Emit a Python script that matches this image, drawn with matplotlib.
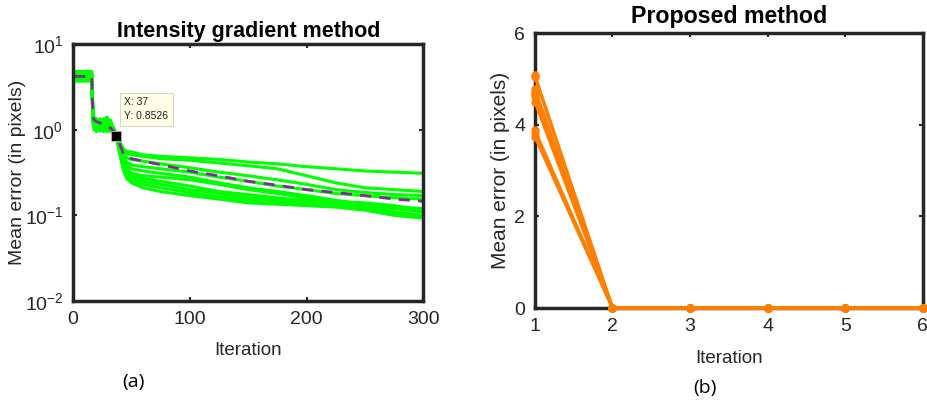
import numpy as np
import matplotlib
matplotlib.use("Agg")
import matplotlib.pyplot as plt

plt.rcParams['font.family'] = ['Liberation Sans', 'DejaVu Sans']

# iterations where the curves of panel (a) were read
iters = [1, 16, 17, 18, 20, 23, 26, 29, 32, 35, 37, 40, 43, 46, 50, 60,
         75, 100, 125, 150, 175, 200, 225, 250, 275, 300]

# mean error of each run, intensity gradient method
runs_a = [
    [4.6, 4.6, 1.6, 1.25, 1.1, 1.3, 1.15, 1.4, 1.2, 1.0, 0.9, 0.70, 0.60, 0.56, 0.55, 0.51,
     0.49, 0.47, 0.45, 0.42, 0.40, 0.37, 0.35, 0.33, 0.32, 0.31],
    [4.3, 4.3, 1.5, 1.35, 1.2, 1.1, 1.35, 1.2, 1.1, 1.05, 0.88, 0.72, 0.58, 0.53, 0.51, 0.49,
     0.46, 0.44, 0.41, 0.38, 0.35, 0.29, 0.24, 0.21, 0.20, 0.19],
    [4.0, 4.0, 1.75, 1.25, 1.0, 1.2, 1.1, 1.4, 1.1, 0.95, 0.85, 0.68, 0.52, 0.47, 0.45, 0.43,
     0.40, 0.36, 0.32, 0.29, 0.26, 0.23, 0.20, 0.185, 0.175, 0.17],
    [3.8, 3.8, 1.3, 1.0, 1.05, 1.25, 0.98, 1.1, 1.3, 0.98, 0.86, 0.64, 0.48, 0.42, 0.39, 0.37,
     0.35, 0.32, 0.28, 0.25, 0.22, 0.20, 0.18, 0.17, 0.16, 0.155],
    [4.8, 4.8, 1.7, 1.4, 1.1, 1.0, 1.25, 1.05, 1.2, 1.0, 0.84, 0.62, 0.45, 0.38, 0.35, 0.33,
     0.31, 0.28, 0.24, 0.21, 0.19, 0.17, 0.15, 0.135, 0.125, 0.12],
    [4.4, 4.4, 1.2, 1.1, 0.95, 1.15, 1.05, 1.25, 1.0, 0.95, 0.87, 0.60, 0.42, 0.35, 0.31, 0.29,
     0.28, 0.26, 0.23, 0.20, 0.18, 0.16, 0.145, 0.14, 0.13, 0.115],
    [3.7, 3.7, 1.55, 1.15, 1.35, 1.05, 0.95, 1.1, 1.05, 0.92, 0.85, 0.58, 0.40, 0.33, 0.29, 0.27,
     0.25, 0.22, 0.19, 0.175, 0.16, 0.15, 0.14, 0.13, 0.12, 0.11],
    [4.1, 4.1, 1.35, 1.2, 0.97, 1.1, 1.3, 0.95, 1.1, 0.97, 0.86, 0.56, 0.38, 0.31, 0.27, 0.25,
     0.23, 0.20, 0.18, 0.16, 0.15, 0.14, 0.135, 0.125, 0.11, 0.10],
    [4.5, 4.5, 1.45, 1.05, 1.15, 1.35, 1.1, 1.0, 1.25, 0.93, 0.84, 0.54, 0.36, 0.29, 0.25, 0.23,
     0.21, 0.185, 0.165, 0.15, 0.14, 0.14, 0.135, 0.12, 0.105, 0.097],
    [3.9, 3.9, 1.25, 1.1, 1.2, 0.96, 1.15, 1.3, 0.95, 0.9, 0.83, 0.52, 0.34, 0.27, 0.24, 0.21,
     0.19, 0.17, 0.155, 0.14, 0.135, 0.13, 0.125, 0.115, 0.10, 0.093],
]
mean_a = [4.2, 4.2, 1.45, 1.3, 1.25, 1.2, 1.15, 1.1, 1.05, 0.95, 0.8526, 0.68, 0.53, 0.48,
          0.46, 0.43, 0.39, 0.33, 0.29, 0.25, 0.225, 0.20, 0.185, 0.17, 0.155, 0.146]
tip_x, tip_y = 37, 0.8526

# proposed method: error at iteration 1 for each run, then zero
iters_b = [1, 2, 3, 4, 5, 6]
start_b = [5.08, 5.05, 4.78, 4.72, 4.68, 4.62, 4.50, 3.88, 3.82, 3.74]

dark = '#262626'

fig = plt.figure(figsize=(9.27, 4.11), dpi=100)
ax1 = fig.add_axes([0.0788, 0.2676, 0.378, 0.625])
ax2 = fig.add_axes([0.577, 0.2506, 0.4186, 0.669])

for r in runs_a:
    ax1.plot(iters, r, color='#00FF00', lw=2.2)
ax1.plot(iters, mean_a, color='#7E2F8E', lw=2, ls=(0, (4, 3)))
ax1.plot([tip_x], [tip_y], 's', color='black', ms=7, mec='#bbbbbb', mew=0.6)
ax1.text(44, 2.4, 'X: %d\nY: %.4f' % (tip_x, tip_y), fontsize=7.5, va='top', ha='left',
         color='#222222', linespacing=1.5,
         bbox=dict(boxstyle='square,pad=0.45', fc='#FFFFE6', ec='#d8d8c8', lw=0.8))
ax1.set_yscale('log')
ax1.set_xlim(0, 300)
ax1.set_ylim(0.01, 10)
ax1.set_xticks([0, 100, 200, 300])
ax1.set_yticks([0.01, 0.1, 1, 10])
ax1.yaxis.set_minor_locator(matplotlib.ticker.NullLocator())
ax1.set_title('Intensity gradient method', fontsize=15.5, fontweight='bold', pad=5)
ax1.set_xlabel('Iteration', fontsize=13.5, color=dark, labelpad=10)
ax1.set_ylabel('Mean error (in pixels)', fontsize=14, color=dark, labelpad=-1)

for s in start_b:
    ax2.plot(iters_b, [s, 0, 0, 0, 0, 0], color='#FF8000', lw=2.2, marker='o', ms=5,
             clip_on=False, zorder=3)
ax2.set_xlim(1, 6)
ax2.set_ylim(0, 6)
ax2.set_xticks(iters_b)
ax2.set_yticks([0, 2, 4, 6])
ax2.set_title('Proposed method', fontsize=16.7, fontweight='bold', pad=7)
ax2.set_xlabel('Iteration', fontsize=13.5, color=dark, labelpad=11)
ax2.set_ylabel('Mean error (in pixels)', fontsize=15, color=dark, labelpad=3)

for ax in (ax1, ax2):
    for sp in ax.spines.values():
        sp.set_linewidth(2.5)
        sp.set_color(dark)
    ax.tick_params(direction='in', top=True, right=True, length=3, width=1.5,
                   labelsize=14, labelcolor=dark, color=dark, pad=7)

fig.text(0.1435, 0.058, '(a)', fontsize=14, ha='center', family=['Open Sans', 'DejaVu Sans'])
fig.text(0.7605, 0.043, '(b)', fontsize=14, ha='center', family=['Open Sans', 'DejaVu Sans'])

fig.savefig('out.png', dpi=100)
